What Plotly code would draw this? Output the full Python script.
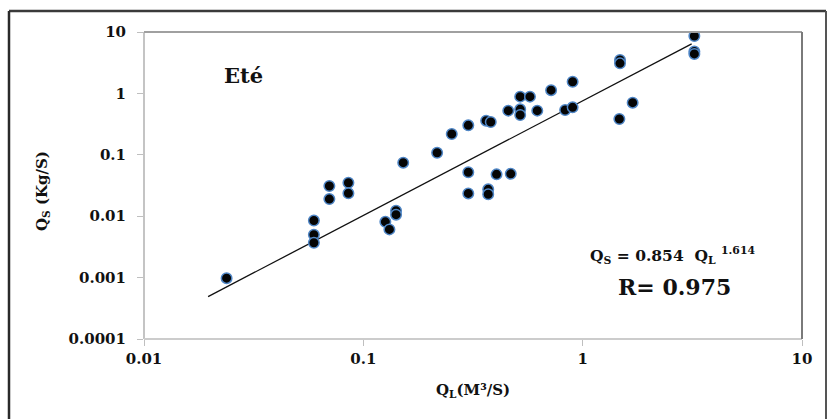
import plotly.graph_objects as go

# Data (log-log scatter)
ql = [0.0238, 0.0595, 0.0595, 0.0595, 0.070, 0.070, 0.0855, 0.0855, 0.126, 0.1315,
      0.141, 0.141, 0.152, 0.217, 0.253, 0.301, 0.301, 0.301, 0.363, 0.381,
      0.371, 0.371, 0.405, 0.470, 0.458, 0.519, 0.575, 0.519, 0.519, 0.621,
      0.718, 0.832, 0.90, 0.90, 1.47, 1.48, 1.48, 1.69, 3.23, 3.23, 3.23]
qs = [0.00098, 0.0085, 0.0050, 0.0037, 0.031, 0.019, 0.035, 0.0236, 0.0081, 0.0061,
      0.0123, 0.0106, 0.0745, 0.108, 0.218, 0.302, 0.052, 0.0235, 0.36, 0.342,
      0.0274, 0.0228, 0.048, 0.049, 0.524, 0.886, 0.886, 0.55, 0.445, 0.524,
      1.13, 0.537, 0.593, 1.55, 0.383, 3.5, 3.09, 0.706, 8.6, 4.8, 4.4]

# Trend line as drawn in the picture
fit_x = [0.0196, 3.14]
fit_y = [0.00049, 6.4]

x_ticks = [0.01, 0.1, 1, 10]
x_ticktext = ["0.01", "0.1", "1", "10"]
y_ticks = [0.0001, 0.001, 0.01, 0.1, 1, 10]
y_ticktext = ["0.0001", "0.001", "0.01", "0.1", "1", "10"]

title_text = "Eté"
eq_text = "<b>Q<sub>S</sub> = 0.854  Q<sub>L</sub> <sup>1.614</sup></b>"
r_text = "<b>R= 0.975</b>"
x_title = "<b>Q<sub>L</sub>(M³/S)</b>"
y_title = "<b>Q<sub>S</sub> (Kg/S)</b>"

SERIF = "DejaVu Serif"

fig = go.Figure()
fig.add_trace(go.Scatter(
    x=fit_x, y=fit_y, mode="lines",
    line=dict(color="#111111", width=1.3),
    hoverinfo="skip", showlegend=False))
fig.add_trace(go.Scatter(
    x=ql, y=qs, mode="markers",
    marker=dict(symbol="circle", size=10.5, color="#050505",
                line=dict(color="#4f86c6", width=1.5)),
    showlegend=False))

fig.update_layout(
    width=830, height=419,
    margin=dict(l=144, r=28, t=32, b=80),
    paper_bgcolor="white", plot_bgcolor="white",
    showlegend=False,
    xaxis=dict(type="log", range=[-2, 1], tickvals=x_ticks, ticktext=x_ticktext,
               showgrid=False, zeroline=False, showline=False,
               ticks="outside", ticklen=6, tickcolor="#bfbfbf", tickwidth=1,
               tickfont=dict(family=SERIF, size=15, color="#111111", weight="bold")),
    yaxis=dict(type="log", range=[-4, 1], tickvals=y_ticks, ticktext=y_ticktext,
               showgrid=False, zeroline=False, showline=False,
               ticks="outside", ticklen=6, tickcolor="#bfbfbf", tickwidth=1,
               ticklabelstandoff=8,
               tickfont=dict(family=SERIF, size=15, color="#111111", weight="bold")),
)

# plot-area frame
fig.add_shape(type="line", xref="paper", yref="paper", x0=0, x1=0, y0=0, y1=1,
              line=dict(color="#c4c4c4", width=2))
fig.add_shape(type="line", xref="paper", yref="paper", x0=0, x1=1, y0=0, y1=0,
              line=dict(color="#cccccc", width=2))
fig.add_shape(type="line", xref="paper", yref="paper", x0=0, x1=1, y0=1, y1=1,
              line=dict(color="#a0a0a0", width=2))
fig.add_shape(type="line", xref="paper", yref="paper", x0=1, x1=1, y0=0, y1=1,
              line=dict(color="#7a7a7a", width=2))

# outer frame (top, left, right)
fx0 = (9 - 144) / 658
fx1 = (826 - 144) / 658
fy_top = 1 + (32 - 11) / 307
fy_bot = 1 - (419 + 5 - 32) / 307
fig.add_shape(type="line", xref="paper", yref="paper", x0=fx0, x1=fx1, y0=fy_top, y1=fy_top,
              line=dict(color="#3a3a3a", width=2.5))
fig.add_shape(type="line", xref="paper", yref="paper", x0=fx0, x1=fx0, y0=fy_bot, y1=fy_top,
              line=dict(color="#2a2a2a", width=2.5))
fig.add_shape(type="line", xref="paper", yref="paper", x0=fx1, x1=fx1, y0=fy_bot, y1=fy_top,
              line=dict(color="#555555", width=2))

ann_font = dict(family=SERIF, color="#111111")
fig.add_annotation(xref="paper", yref="paper", x=(222 - 144) / 658, y=1 - (75 - 32) / 307,
                   xanchor="left", yanchor="middle", showarrow=False,
                   text="<b>" + title_text + "</b>", font=dict(size=21, **ann_font))
fig.add_annotation(xref="paper", yref="paper", x=(588 - 144) / 658, y=1 - (255 - 32) / 307,
                   xanchor="left", yanchor="middle", showarrow=False,
                   text=eq_text, font=dict(size=15.5, **ann_font))
fig.add_annotation(xref="paper", yref="paper", x=(616 - 144) / 658, y=1 - (287 - 32) / 307,
                   xanchor="left", yanchor="middle", showarrow=False,
                   text=r_text, font=dict(size=22, **ann_font))
fig.add_annotation(xref="paper", yref="paper", x=(473 - 144) / 658, y=1 - (390 - 32) / 307,
                   xanchor="center", yanchor="middle", showarrow=False,
                   text=x_title, font=dict(size=15, **ann_font))
fig.add_annotation(xref="paper", yref="paper", x=(42 - 144) / 658, y=1 - (191 - 32) / 307,
                   xanchor="center", yanchor="middle", showarrow=False, textangle=-90,
                   text=y_title, font=dict(size=15, **ann_font))

fig.write_html("out.html")
